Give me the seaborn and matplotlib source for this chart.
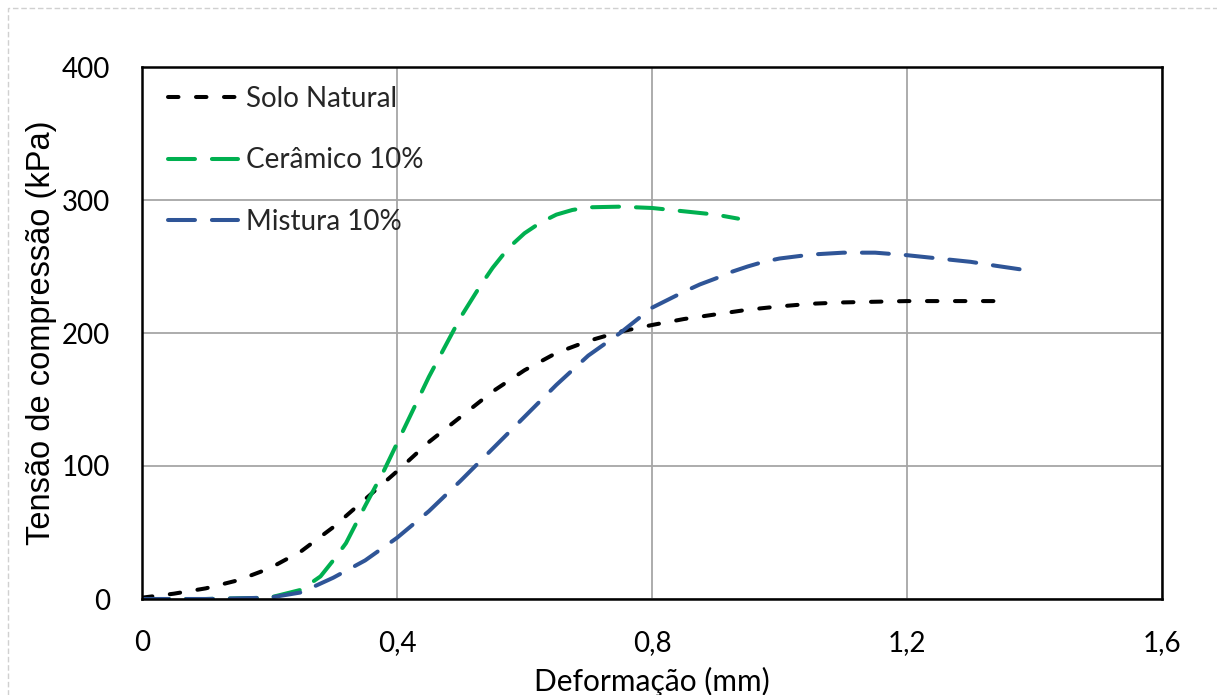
import matplotlib
matplotlib.use("Agg")
import matplotlib.pyplot as plt
from matplotlib.patches import Rectangle
import pandas as pd
import seaborn as sns

# Stress-strain curves from unconfined compression tests
solo_x = [0, 0.05, 0.1, 0.15, 0.2, 0.25, 0.3, 0.35, 0.4, 0.45, 0.5, 0.55,
          0.6, 0.65, 0.7, 0.75, 0.8, 0.85, 0.9, 0.95, 1.0, 1.05, 1.1, 1.2,
          1.3, 1.35]
solo_y = [1, 4, 8, 14, 23, 36, 54, 75, 96, 118, 137, 156,
          172, 185, 194, 201, 206, 210.5, 214, 217.5, 220, 222, 223, 224,
          224, 224]

ceramico_x = [0, 0.1, 0.2, 0.25, 0.28, 0.3, 0.32, 0.35, 0.38, 0.4, 0.45,
              0.5, 0.53, 0.55, 0.575, 0.6, 0.625, 0.65, 0.675, 0.7, 0.75,
              0.8, 0.85, 0.9, 0.935]
ceramico_y = [0, 0, 1, 7, 17, 29, 42, 70, 97, 117, 167,
              212, 235, 249, 264, 275, 283, 289, 292.5, 294.5, 295,
              294, 291.5, 289, 286]

mistura_x = [0, 0.1, 0.2, 0.25, 0.3, 0.35, 0.4, 0.45, 0.5, 0.55, 0.6, 0.65,
             0.7, 0.75, 0.8, 0.825, 0.85, 0.875, 0.9, 0.925, 0.95, 0.975,
             1.0, 1.05, 1.1, 1.15, 1.2, 1.25, 1.3, 1.34, 1.39]
mistura_y = [0, 0, 1, 5, 16, 29, 46, 66, 89, 113, 137, 161,
             183, 200, 219, 225, 231, 236.5, 241, 246, 250, 253.5,
             256, 259, 260.4, 260.4, 258.5, 256, 253.5, 250.5, 247]

series_names = ["Solo Natural", "Cerâmico 10%", "Mistura 10%"]
x_ticks = [0, 0.4, 0.8, 1.2, 1.6]
x_tick_labels = ["0", "0,4", "0,8", "1,2", "1,6"]
y_ticks = [0, 100, 200, 300, 400]

sns.set_theme(style="white")
plt.rcParams["font.family"] = ["Lato", "DejaVu Sans"]

fig = plt.figure(figsize=(12.17, 6.95), dpi=100)
fig.patch.set_facecolor("white")

# light dashed outline around the chart area
fig.patches.append(Rectangle((8 / 1217, -0.05), 1.1, (687 / 695) + 0.05,
                             transform=fig.transFigure, fill=False,
                             edgecolor="#d0d0d0", linewidth=1.0,
                             linestyle=(0, (4, 2)), zorder=0))

ax = fig.add_axes([142 / 1217, 96 / 695, 1020 / 1217, 532 / 695])

lw = 2.9
styles = [
    (solo_x, solo_y, "#000000", (0, (2.6, 4.35))),
    (ceramico_x, ceramico_y, "#00b050", (0, (6.7, 4.2))),
    (mistura_x, mistura_y, "#2f5597", (0, (6.7, 4.2))),
]
for name, (xs, ys, color, dash) in zip(series_names, styles):
    df = pd.DataFrame({"x": xs, "y": ys})
    sns.lineplot(data=df, x="x", y="y", ax=ax, color=color, linewidth=lw,
                 linestyle=dash, sort=False, estimator=None, label=name)

for line in ax.lines:
    line.set_dash_capstyle("round")

ax.set_xlim(0, 1.6)
ax.set_ylim(0, 400)
ax.set_xticks(x_ticks)
ax.set_xticklabels(x_tick_labels)
ax.set_yticks(y_ticks)
ax.grid(True, color="#a6a6a6", linewidth=1.3)
ax.set_axisbelow(True)
for side in ["left", "right", "top", "bottom"]:
    ax.spines[side].set_color("black")
    ax.spines[side].set_linewidth(1.8)
    ax.spines[side].set_visible(True)

ax.tick_params(axis="both", length=0, labelsize=20, colors="black")
ax.tick_params(axis="y", pad=23)
ax.tick_params(axis="x", pad=22)

ax.set_xlabel("Deformação (mm)", fontsize=21.5, color="black", labelpad=8)
ax.set_ylabel("Tensão de compressão (kPa)", fontsize=23.5, color="black",
              family=["Liberation Sans", "DejaVu Sans"])
ax.yaxis.set_label_coords(-0.083, 0.5)

leg = ax.legend(loc="upper left", bbox_to_anchor=(0.015, 0.985), frameon=False,
                fontsize=20, handlelength=2.5, handletextpad=0.3,
                labelspacing=1.27, borderaxespad=0)
for handle in leg.get_lines():
    handle.set_dash_capstyle("round")

fig.savefig("out.png", dpi=100, facecolor="white")
